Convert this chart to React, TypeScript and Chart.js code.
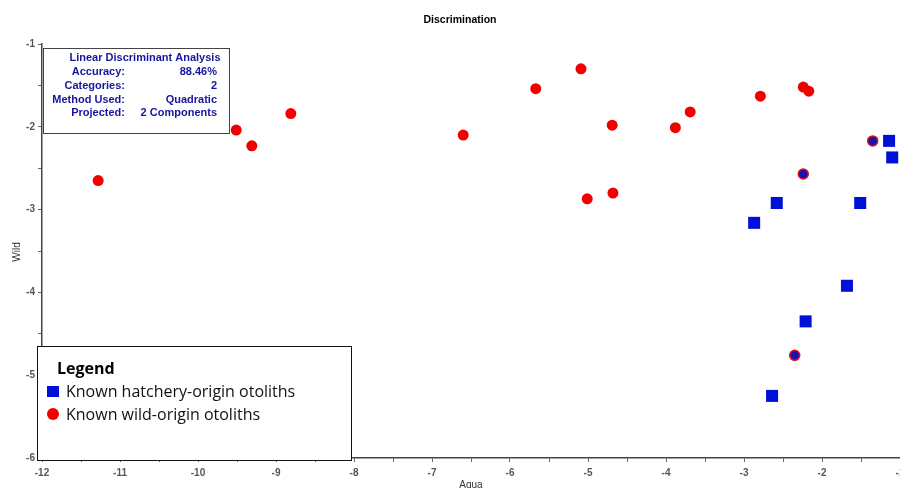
import React, { useEffect, useRef } from "react";
import { Chart, registerables } from "chart.js";

Chart.register(...registerables);

// Discriminant scores: Aqua (x) vs Wild (y)
const hatcheryAqua = [-1.14, -1.10, -2.58, -2.87, -1.51, -1.68, -2.21, -2.64];
const hatcheryWild = [-2.17, -2.37, -2.92, -3.16, -2.92, -3.92, -4.35, -5.25];

const wildAqua = [-11.28, -9.51, -9.31, -8.81, -6.60, -5.67, -5.09, -4.69, -5.01, -4.68, -3.88, -3.69, -2.79, -2.24, -2.17];
const wildWild = [-2.65, -2.04, -2.23, -1.84, -2.10, -1.54, -1.30, -1.98, -2.87, -2.80, -2.01, -1.82, -1.63, -1.52, -1.57];

// Wild-origin otoliths assigned to the hatchery group
const misclassAqua = [-1.35, -2.24, -2.35];
const misclassWild = [-2.17, -2.57, -4.76];

const infoLabels = ["Accuracy:", "Categories:", "Method Used:", "Projected:"];
const infoValues = ["88.46%", "2", "Quadratic", "2 Components"];

const legendLabels = ["Known hatchery-origin otoliths", "Known wild-origin otoliths"];

const RED = "#f20000";
const BLUE = "#0010d8";
const NAVY = "#16169c";

const toPoints = (xs: number[], ys: number[]) => xs.map((x, i) => ({ x, y: ys[i] }));

const overlayPlugin = {
  id: "overlay",
  afterDraw(chart: any) {
    const ctx = chart.ctx as CanvasRenderingContext2D;
    const area = chart.chartArea;
    ctx.save();

    // Title
    ctx.fillStyle = "#000";
    ctx.font = "bold 10.5px 'Liberation Sans', Arial, sans-serif";
    ctx.textAlign = "center";
    ctx.textBaseline = "middle";
    ctx.fillText("Discrimination", 460, 20);

    // Axis titles
    ctx.fillStyle = "#333";
    ctx.font = "10px 'Liberation Sans', Arial, sans-serif";
    ctx.fillText("Aqua", (area.left + area.right) / 2, 485);
    ctx.save();
    ctx.translate(17, 252);
    ctx.rotate(-Math.PI / 2);
    ctx.fillText("Wild", 0, 0);
    ctx.restore();

    // Analysis summary box
    ctx.fillStyle = "#fff";
    ctx.fillRect(43, 48, 186, 85);
    ctx.strokeStyle = "#444";
    ctx.lineWidth = 1;
    ctx.strokeRect(43.5, 48.5, 186, 85);
    ctx.fillStyle = NAVY;
    ctx.font = "bold 11px 'Liberation Sans', Arial, sans-serif";
    ctx.textAlign = "center";
    ctx.fillText("Linear Discriminant Analysis", 145, 58);
    infoLabels.forEach((lab, i) => {
      const y = 72 + i * 13.8;
      ctx.textAlign = "right";
      ctx.fillText(lab, 125, y);
      ctx.fillText(infoValues[i], 217, y);
    });

    // Legend box
    ctx.fillStyle = "#fff";
    ctx.fillRect(37, 346, 315, 115);
    ctx.strokeStyle = "#111";
    ctx.lineWidth = 1;
    ctx.strokeRect(37.5, 346.5, 314, 114);
    ctx.fillStyle = "#000";
    ctx.textAlign = "left";
    ctx.font = "bold 16px 'Open Sans', 'Noto Sans', sans-serif";
    ctx.fillText("Legend", 57, 369);
    ctx.font = "16px 'Open Sans', 'Noto Sans', sans-serif";
    ctx.fillStyle = BLUE;
    ctx.fillRect(47, 386, 12, 11);
    ctx.fillStyle = RED;
    ctx.beginPath();
    ctx.arc(53, 414, 6, 0, Math.PI * 2);
    ctx.fill();
    ctx.fillStyle = "#111";
    ctx.fillText(legendLabels[0], 66, 392);
    ctx.fillText(legendLabels[1], 66, 415);

    ctx.restore();
  },
};

export default function App() {
  const ref = useRef<HTMLCanvasElement>(null);

  useEffect(() => {
    const canvas = ref.current;
    if (!canvas) return;
    const tickFont = { family: "'Liberation Sans', Arial, sans-serif", size: 10, weight: "bold" as const };
    const chart = new Chart(canvas, {
      type: "scatter",
      data: {
        datasets: [
          {
            label: legendLabels[1],
            data: toPoints(wildAqua, wildWild),
            pointStyle: "circle",
            pointRadius: 5.5,
            pointBorderWidth: 0,
            backgroundColor: RED,
            borderColor: RED,
          },
          {
            label: legendLabels[0],
            data: toPoints(hatcheryAqua, hatcheryWild),
            pointStyle: "rect",
            pointRadius: 8.5,
            pointBorderWidth: 0,
            backgroundColor: BLUE,
            borderColor: BLUE,
          },
          {
            label: "Misclassified",
            data: toPoints(misclassAqua, misclassWild),
            pointStyle: "circle",
            pointRadius: 5,
            pointBorderWidth: 1.5,
            backgroundColor: "#1a10b0",
            borderColor: "#e0101a",
          },
        ],
      },
      options: {
        responsive: false,
        animation: false,
        layout: { autoPadding: false, padding: { top: 44, right: 0, left: 0, bottom: 0 } },
        plugins: {
          legend: { display: false },
          tooltip: { enabled: false },
          title: { display: false },
        },
        scales: {
          x: {
            type: "linear",
            min: -12,
            max: -1,
            border: { display: true, color: "#444", width: 1.5 },
            grid: { display: true, drawOnChartArea: false, drawTicks: true, tickLength: 4, color: "#666" },
            ticks: {
              stepSize: 0.5,
              autoSkip: false,
              maxRotation: 0,
              padding: 5,
              color: "#555",
              font: tickFont,
              callback: (v: any) => (Number.isInteger(v) ? String(v) : ""),
            },
            afterFit: (s: any) => {
              s.height = 30;
              s.paddingLeft = 0;
              s.paddingRight = 0;
            },
          },
          y: {
            type: "linear",
            min: -6,
            max: -1,
            border: { display: true, color: "#444", width: 1.5 },
            grid: { display: true, drawOnChartArea: false, drawTicks: true, tickLength: 4, color: "#666" },
            ticks: {
              stepSize: 0.5,
              autoSkip: false,
              padding: 3,
              color: "#555",
              font: tickFont,
              callback: (v: any) => (Number.isInteger(v) ? String(v) : ""),
            },
            afterFit: (s: any) => {
              s.width = 42;
              s.paddingTop = 0;
              s.paddingBottom = 0;
            },
          },
        },
      },
      plugins: [overlayPlugin],
    } as any);
    return () => chart.destroy();
  }, []);

  return (
    <div style={{ position: "fixed", left: 0, top: 0, width: 900, height: 488, background: "#fff" }}>
      <canvas ref={ref} width={900} height={488} style={{ display: "block" }} />
    </div>
  );
}
